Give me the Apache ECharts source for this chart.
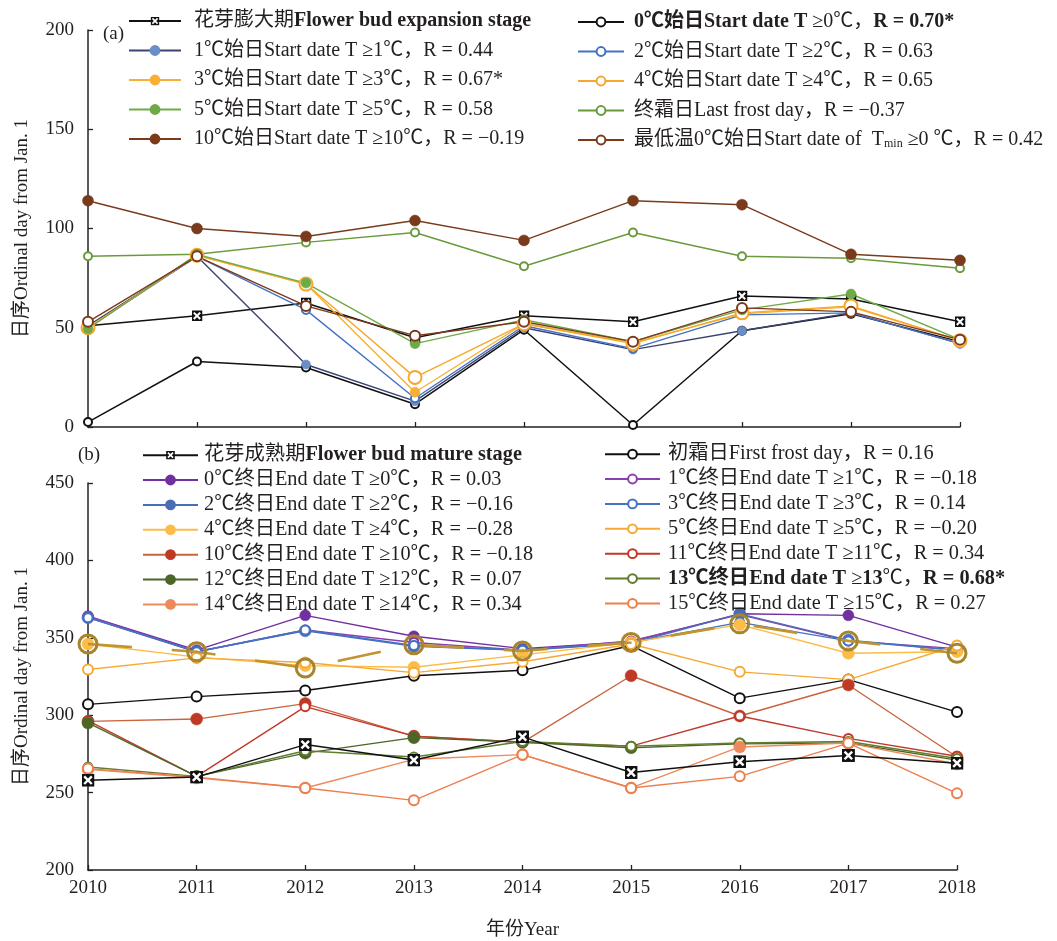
<!DOCTYPE html>
<html>
<head>
<meta charset="utf-8">
<style>
html, body { margin: 0; padding: 0; background: #fff; }
#chart { width: 1057px; height: 941px; }
</style>
<script src="https://cdn.jsdelivr.net/npm/echarts/dist/echarts.min.js"></script>
</head>
<body>
<div id="chart"></div>
<script>
// Years on the shared horizontal axis
const years = ['2010', '2011', '2012', '2013', '2014', '2015', '2016', '2017', '2018'];

// Panel (a): flower bud expansion stage and spring start dates (ordinal day)
const budExpansion = [51, 56, 62.5, 45, 56, 53, 66, 64.5, 53];
const startT0 = [2.5, 33, 30, 11.5, 49, 1, 48.5, 57, 43];
const startT1 = [51, 86, 31.5, 13, 50, 39, 48.5, 57.5, 42];
const startT2 = [50, 86, 59, 14.5, 51, 39.5, 56.5, 57.5, 42];
const startT3 = [50, 86.5, 72, 17.5, 52, 42.5, 57, 60.5, 43.5];
const startT4 = [50, 86.5, 72, 25, 52, 42, 57.5, 61, 43.5];
const startT5 = [49.5, 87, 72.5, 42, 54, 43, 59, 67, 44];
const lastFrost = [86, 87, 93, 98, 81, 98, 86, 85, 80];
const startT10 = [114, 100, 96, 104, 94, 114, 112, 87, 84];
const startTmin0 = [53, 86, 61, 46, 53, 43, 60, 58, 44];

// Panel (b): flower bud mature stage and autumn end dates (ordinal day)
const budMature = [258, 260, 281, 271, 286, 263, 270, 274, 269];
const firstFrost = [307, 312, 316, 325.5, 329, 345, 311, 323, 302];
const endT0 = [364, 342, 364.5, 351, 343, 347.5, 365.5, 364.5, 344];
const endT1 = [364, 341, 355, 347, 342, 348, 365, 348, 343];
const endT2 = [363, 341, 354.5, 344.5, 342, 346.5, 365.5, 348.5, 342];
const endT3 = [363, 341, 355, 345, 342, 347, 360, 348, 342];
const endT4 = [346, 337.5, 332, 331, 339, 347, 358.5, 340, 341];
const endT5 = [329.5, 337, 334, 327.5, 334.5, 346, 328, 323, 345];
const endT10 = [296, 297.5, 307.5, 286.5, 282.5, 325.5, 299.5, 319.5, 273];
const endT11 = [296.5, 260.5, 305.5, 286.5, 282.5, 280, 299.5, 285, 273.5];
const endT12 = [295, 260.5, 275.5, 285.5, 282.5, 279, 281.5, 282, 271];
const endT13 = [266.5, 260.5, 277, 273, 283, 280, 282, 283, 272];
const endT14 = [265, 259.5, 253, 271.5, 274.5, 253, 279.5, 282, 268.5];
const endT15 = [265.5, 260, 253, 245, 274.5, 253, 260.5, 282, 249.5];
const endRing = [346, 341, 330.5, 345.5, 341.5, 347, 359, 348, 340];

// Axis ticks
const ticksA = [0, 50, 100, 150, 200];
const ticksB = [200, 250, 300, 350, 400, 450];

const SERIF = "'Liberation Serif', 'Times New Roman', 'Noto Sans CJK SC', serif";
const INK = '#231f20';

// Black square with a white cross, used for the phenological stage markers
const stageSymbol = 'image://data:image/svg+xml;charset=utf-8,' + encodeURIComponent(
  '<svg xmlns="http://www.w3.org/2000/svg" width="24" height="24" viewBox="0 0 24 24">' +
  '<rect x="0" y="0" width="24" height="24" fill="#111"/>' +
  '<path d="M5 5 L19 19 M19 5 L5 19" stroke="#fff" stroke-width="4.5"/></svg>');

const richLabel = {};

function line(name, label, data, panel, color, opt) {
  richLabel[name] = label;
  const o = opt || {};
  const hollow = o.hollow;
  return {
    type: 'line',
    name: name,
    data: data,
    xAxisIndex: panel,
    yAxisIndex: panel,
    symbol: o.symbol || (hollow ? 'emptyCircle' : 'circle'),
    symbolSize: o.size || 9,
    showSymbol: true,
    lineStyle: { color: o.lineColor || color, width: o.width || 1.4, type: o.dash || 'solid' },
    itemStyle: {
      color: o.fill || color,
      borderColor: color,
      borderWidth: hollow || o.fill ? (o.bw || 1.3) : 0.5
    },
    z: o.z || 2,
    silent: true
  };
}

const series = [
  // panel (a)
  line('sA', '花芽膨大期{b|Flower bud expansion stage}', budExpansion, 0, '#111',
       { symbol: stageSymbol, size: 11, width: 1.5 }),
  line('a0', '{b|0℃始日Start date T }≥0℃，{b|R = 0.70*}', startT0, 0, '#111',
       { hollow: true, size: 8, width: 1.5 }),
  line('a1', '1℃始日Start date T ≥1℃，R = 0.44', startT1, 0, '#6b8ec6',
       { lineColor: '#3a4472', size: 9 }),
  line('a2', '2℃始日Start date T ≥2℃，R = 0.63', startT2, 0, '#4472c4',
       { hollow: true, size: 8 }),
  line('a3', '3℃始日Start date T ≥3℃，R = 0.67*', startT3, 0, '#f7b035',
       { size: 10 }),
  line('a4', '4℃始日Start date T ≥4℃，R = 0.65', startT4, 0, '#f5a82a',
       { hollow: true, size: 13, bw: 2.2 }),
  line('a5', '5℃始日Start date T ≥5℃，R = 0.58', startT5, 0, '#70a948',
       { size: 10 }),
  line('aF', '终霜日Last frost day，R = −0.37', lastFrost, 0, '#6a9a3c',
       { hollow: true, size: 8 }),
  line('a10', '10℃始日Start date T ≥10℃，R = −0.19', startT10, 0, '#7a3b1d',
       { size: 11 }),
  line('aM', '最低温0℃始日Start date of  T{sub|min} ≥0 ℃，R = 0.42', startTmin0, 0, '#7d3a1a',
       { hollow: true, size: 10, bw: 3 }),

  // panel (b)
  line('sB', '花芽成熟期{b|Flower bud mature stage}', budMature, 1, '#111',
       { symbol: stageSymbol, size: 13, width: 1.5, z: 3 }),
  line('bF', '初霜日First frost day，R = 0.16', firstFrost, 1, '#111',
       { hollow: true, size: 10, bw: 1.5 }),
  line('b0', '0℃终日End date T ≥0℃，R = 0.03', endT0, 1, '#7030a0', { size: 11 }),
  line('b1', '1℃终日End date T ≥1℃，R = −0.18', endT1, 1, '#8a3fb0',
       { hollow: true, size: 9 }),
  line('b2', '2℃终日End date T ≥2℃，R = −0.16', endT2, 1, '#4b6cb7', { size: 12 }),
  line('b3', '3℃终日End date T ≥3℃，R = 0.14', endT3, 1, '#4472c4',
       { hollow: true, size: 9 }),
  line('b4', '4℃终日End date T ≥4℃，R = −0.28', endT4, 1, '#fbbd48', { size: 12 }),
  line('b5', '5℃终日End date T ≥5℃，R = −0.20', endT5, 1, '#f7a933',
       { hollow: true, size: 10 }),
  line('b10', '10℃终日End date T ≥10℃，R = −0.18', endT10, 1, '#bf3a25',
       { lineColor: '#c8653c', size: 12 }),
  line('b11', '11℃终日End date T ≥11℃，R = 0.34', endT11, 1, '#c0392b',
       { hollow: true, size: 9 }),
  line('b12', '12℃终日End date T ≥12℃，R = 0.07', endT12, 1, '#4d6628', { size: 12 }),
  line('b13', '{b|13℃终日End date T }≥{b|13}℃，{b|R = 0.68*}', endT13, 1, '#5f7d2c',
       { hollow: true, size: 9 }),
  line('b14', '14℃终日End date T ≥14℃，R = 0.34', endT14, 1, '#ee8a5a', { size: 12 }),
  line('b15', '15℃终日End date T ≥15℃，R = 0.27', endT15, 1, '#ec7f50',
       { hollow: true, size: 10 }),
  line('bR', '', endRing, 1, '#a8852c',
       { fill: 'rgba(0,0,0,0)', size: 18, bw: 3, lineColor: '#c09530', width: 2.6, dash: [44, 40], z: 5 })
];

function legend(names, left, top, itemWidth, gapWidth, fontSize, itemGap) {
  return {
    data: names,
    orient: 'vertical',
    left: left,
    top: top,
    itemWidth: itemWidth,
    itemHeight: 11,
    itemGap: itemGap,
    selectedMode: false,
    padding: 0,
    formatter: function (n) { return '{sp| }' + richLabel[n]; },
    textStyle: {
      fontFamily: SERIF,
      fontSize: fontSize,
      color: INK,
      lineHeight: 20,
      rich: {
        sp: { width: gapWidth, fontSize: fontSize, fontFamily: SERIF },
        b: { fontWeight: 'bold', fontSize: fontSize, fontFamily: SERIF, color: INK },
        sub: { fontSize: 12, fontFamily: SERIF, color: INK, verticalAlign: 'bottom', padding: [9, 0, 0, 0] }
      }
    }
  };
}

const axisLine = { show: true, onZero: false, lineStyle: { color: '#222', width: 1.5 } };
const axisTick = { show: true, inside: true, length: 5, lineStyle: { color: '#222', width: 1.3 } };
const tickLabel = { fontFamily: SERIF, fontSize: 19, color: INK };

const option = {
  backgroundColor: '#fff',
  animation: false,
  grid: [
    { left: 88, top: 30, width: 872, height: 397 },
    { left: 88, top: 483, width: 869, height: 387 }
  ],
  xAxis: [
    { type: 'category', gridIndex: 0, data: years, boundaryGap: false,
      axisLine: axisLine, axisTick: axisTick, axisLabel: { show: false }, splitLine: { show: false } },
    { type: 'category', gridIndex: 1, data: years, boundaryGap: false,
      axisLine: axisLine, axisTick: axisTick, axisLabel: Object.assign({ margin: 9 }, tickLabel),
      splitLine: { show: false },
      name: '年份Year', nameLocation: 'middle', nameGap: 51,
      nameTextStyle: { fontFamily: SERIF, fontSize: 19, color: INK } }
  ],
  yAxis: [
    { type: 'value', gridIndex: 0, min: ticksA[0], max: ticksA[ticksA.length - 1], interval: ticksA[1] - ticksA[0],
      axisLine: axisLine, axisTick: axisTick, axisLabel: Object.assign({ margin: 14 }, tickLabel),
      splitLine: { show: false },
      name: '日序Ordinal day from Jan. 1', nameLocation: 'middle', nameGap: 56, nameRotate: 90,
      nameTextStyle: { fontFamily: SERIF, fontSize: 19, color: INK } },
    { type: 'value', gridIndex: 1, min: ticksB[0], max: ticksB[ticksB.length - 1], interval: ticksB[1] - ticksB[0],
      axisLine: axisLine, axisTick: axisTick, axisLabel: Object.assign({ margin: 14 }, tickLabel),
      splitLine: { show: false },
      name: '日序Ordinal day from Jan. 1', nameLocation: 'middle', nameGap: 56, nameRotate: 90,
      nameTextStyle: { fontFamily: SERIF, fontSize: 19, color: INK } }
  ],
  legend: [
    legend(['sA', 'a1', 'a3', 'a5', 'a10'], 128, 11, 52, 8, 20, 9.5),
    legend(['a0', 'a2', 'a4', 'aF', 'aM'], 577, 12, 46, 5, 20, 9.5),
    legend(['sB', 'b0', 'b2', 'b4', 'b10', 'b12', 'b14'], 142, 445, 55, 1, 20.3, 4.6),
    legend(['bF', 'b1', 'b3', 'b5', 'b11', 'b13', 'b15'], 604, 444, 55, 3, 20.3, 4.6)
  ],
  graphic: [
    { type: 'text', left: 103, top: 25, style: { text: '(a)', font: "19px 'Liberation Serif'", fill: INK } },
    { type: 'text', left: 78, top: 446, style: { text: '(b)', font: "19px 'Liberation Serif'", fill: INK } }
  ],
  series: series
};

const chart = echarts.init(document.getElementById('chart'), null, { renderer: 'canvas' });
chart.setOption(option);
</script>
</body>
</html>
